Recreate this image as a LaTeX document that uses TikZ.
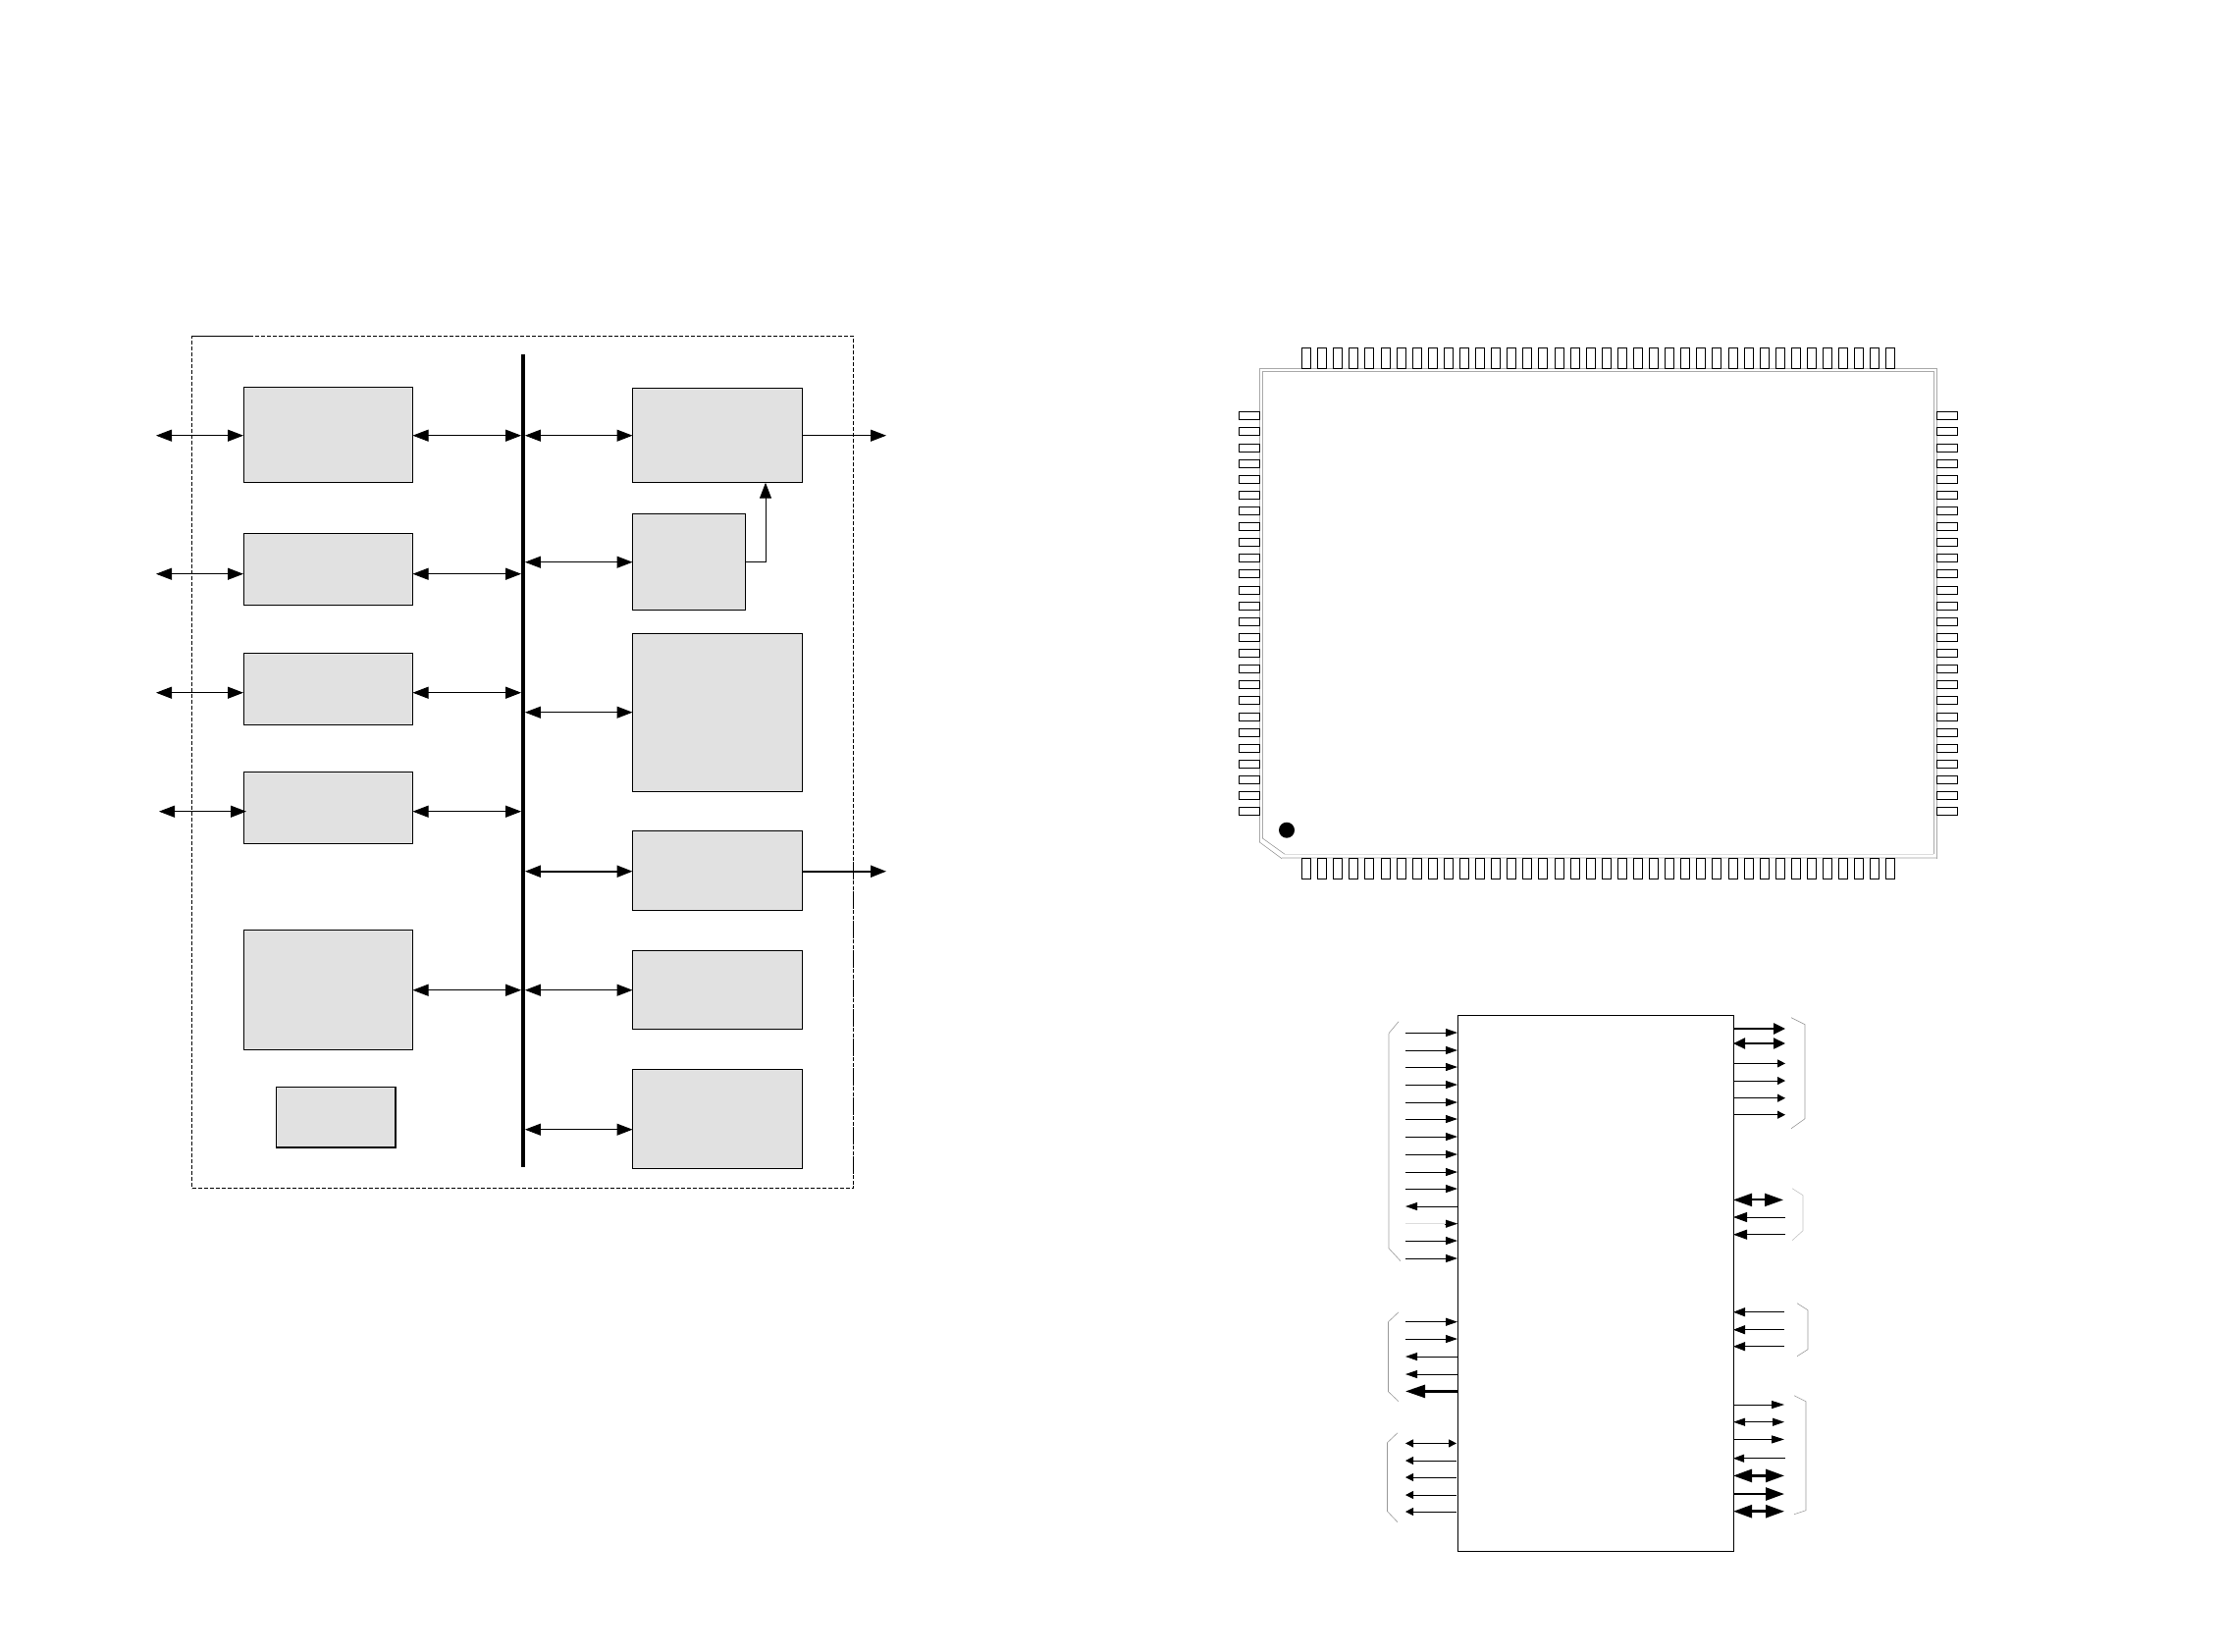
\documentclass[tikz,border=0pt]{standalone}
\usetikzlibrary{arrows.meta}
\definecolor{blkfill}{HTML}{E1E1E1}
\definecolor{pkg}{HTML}{AAAAAA}
\definecolor{pale}{HTML}{DDDDDD}
\definecolor{brk}{HTML}{999999}
\tikzset{
  x=1pt,y=-1pt,
  blk/.style={draw=black,fill=blkfill,line width=0.9pt,inner sep=0pt,outer sep=0pt},
  pinbox/.style={draw=black,line width=0.9pt,fill=white,inner sep=0pt,outer sep=0pt},
  busbar/.style={fill=black,inner sep=0pt,outer sep=0pt,minimum width=3.8pt},
  frm/.style={draw=black,line width=0.9pt,dash pattern=on 4pt off 2pt,inner sep=0pt,outer sep=0pt},
  chipbody/.style={draw=black,line width=0.9pt,inner sep=0pt,outer sep=0pt},
  dbl/.style n args={3}{line width=#1,{Triangle[length=#2,width=#3]}-{Triangle[length=#2,width=#3]}},
  rgt/.style n args={3}{line width=#1,-{Triangle[length=#2,width=#3]}},
  lft/.style n args={3}{line width=#1,{Triangle[length=#2,width=#3]}-},
  brace/.style={draw=brk,line width=0.6pt},
  paleline/.style={draw=pale,line width=1.5pt},
  pk/.style={draw=pkg,line width=1pt},
}
\newcommand{\blkbox}[5]{\node[blk,minimum width={(#4-#2)*1pt},minimum height={(#5-#3)*1pt}] (#1) at ({(#2+#4)/2},{(#3+#5)/2}) {};}
\begin{document}
\begin{tikzpicture}
\useasboundingbox (0,-0.7) rectangle (2266,1681.3);
% ---------- block diagram
\node[frm,minimum width=674pt,minimum height=868pt] (sys) at (532.5,776) {};
\draw[line width=1.3pt,dash pattern=on 4pt off 2pt] (sys.north west) -- ++(62,0);
\draw[line width=1.5pt,dash pattern=on 3pt off 2pt] (sys.south east) -- ++(0,-345);
\blkbox{A}{248}{394}{420.5}{491}
\blkbox{B}{248}{543}{420.5}{616}
\blkbox{C}{248}{664.5}{420.5}{738}
\blkbox{D}{248}{786}{420.5}{859}
\blkbox{E}{248}{947}{420.5}{1068.5}
\blkbox{F}{281}{1107}{403}{1168}
\blkbox{Ra}{644.5}{394.5}{817}{491}
\blkbox{Rb}{644.5}{523}{759.5}{620.5}
\blkbox{Rc}{644.5}{644.5}{817}{806}
\blkbox{Rd}{644.5}{846}{817}{927}
\blkbox{Re}{644.5}{968}{817}{1048}
\blkbox{Rf}{644.5}{1089}{817}{1190}
\draw[line width=1.6pt] (F.north west) ++(0,61) -- ++(122,0) -- ++(0,-61);
\node[busbar,minimum height=828pt] (bus) at (533,774) {};
% left free ends
\coordinate (la) at (159,443);
\coordinate (lb) at (159,584);
\coordinate (lc) at (159,705);
\coordinate (ld) at (162,826);
\coordinate (le) at (159,1008);
\coordinate (lda) at (251,826);
\draw[dbl={1pt}{16pt}{12pt}] (la) -- (la -| A.west);
\draw[dbl={1pt}{16pt}{12pt}] (lb) -- (lb -| B.west);
\draw[dbl={1pt}{16pt}{12pt}] (lc) -- (lc -| C.west);
\draw[dbl={1pt}{16pt}{12pt}] (ld) -- (lda);
\draw[dbl={1pt}{16pt}{12pt}] (la -| A.east) -- (la -| bus.west);
\draw[dbl={1pt}{16pt}{12pt}] (lb -| B.east) -- (lb -| bus.west);
\draw[dbl={1pt}{16pt}{12pt}] (lc -| C.east) -- (lc -| bus.west);
\draw[dbl={1pt}{16pt}{12pt}] (ld -| D.east) -- (ld -| bus.west);
\draw[dbl={1pt}{16pt}{12pt}] (le -| E.east) -- (le -| bus.west);
% right of bus
\coordinate (rb) at (645,572);
\coordinate (rc) at (645,725);
\coordinate (rd) at (645,887);
\coordinate (rf) at (645,1150);
\coordinate (ra) at (903,443);
\coordinate (rdo) at (903,887);
\coordinate (kn) at (780,572);
\draw[dbl={1pt}{16pt}{12pt}] (la -| bus.east) -- (la -| Ra.west);
\draw[dbl={1pt}{16pt}{12pt}] (rb -| bus.east) -- (rb -| Rb.west);
\draw[dbl={1pt}{16pt}{12pt}] (rc -| bus.east) -- (rc -| Rc.west);
\draw[dbl={2pt}{16pt}{12pt}] (rd -| bus.east) -- (rd -| Rd.west);
\draw[dbl={1pt}{16pt}{12pt}] (le -| bus.east) -- (le -| Re.west);
\draw[dbl={1pt}{16pt}{12pt}] (rf -| bus.east) -- (rf -| Rf.west);
\draw[rgt={1pt}{16pt}{12pt}] (ra -| Ra.east) -- (ra);
\draw[rgt={2pt}{16pt}{12pt}] (rdo -| Rd.east) -- (rdo);
\draw[rgt={1pt}{16pt}{12pt}] (kn -| Rb.east) -- (kn) -- (kn |- Ra.south);
% ---------- package
\draw[pk] (1283,857) -- (1283,375) -- (1973,375) -- (1973,874);
\draw[pk] (1286,853) -- (1286,378) -- (1970,378) -- (1970,869.5);
\draw[paleline] (1306,873.5) -- (1973,873.5);
\draw[draw=pale,line width=1pt] (1309,869.5) -- (1970,869.5);
\draw[brace] (1283,857) -- (1306,874);
\draw[brace] (1286,853) -- (1309,869.5);
\fill[black] (1311,845) circle (8pt);
\foreach \i in {0,...,37}{
  \pgfmathsetmacro{\px}{1331+16.09*\i}
  \node[pinbox,minimum width=9pt,minimum height=21pt] (pt\i) at (\px,364.5) {};
  \node[pinbox,minimum width=9pt,minimum height=20.5pt] (pb\i) at (\px,884.2) {};
}
\foreach \i in {0,...,25}{
  \pgfmathsetmacro{\py}{423+16.12*\i}
  \node[pinbox,minimum width=21pt,minimum height=8pt] (pl\i) at (1272.5,\py) {};
  \node[pinbox,minimum width=21.5pt,minimum height=8pt] (pr\i) at (1984,\py) {};
}
% ---------- pin-out chip
\node[chipbody,minimum width=281pt,minimum height=546pt] (chip) at (1625.5,1307) {};
% left groups
\foreach \n/\y in {a/1051.3,b/1069.3,c/1086.3,d/1104.3,e/1122.3,f/1139.3,g/1157.3,h/1175.3,i/1193.3,j/1210.3,m/1263.3,n/1281.3,p/1346,q/1363.3}{
  \coordinate (L\n) at (1432,\y);
  \draw[rgt={0.9pt}{12pt}{8pt}] (L\n) -- (L\n -| chip.west);
}
\coordinate (Lk) at (1432,1228.3);
\draw[lft={0.9pt}{12pt}{8pt}] (Lk) -- (Lk -| chip.west);
\coordinate (Ll) at (1432,1246);
\draw[draw=pale,line width=1.4pt] (Ll) -- ++(40,0);
\draw[rgt={0.2pt}{12pt}{8pt}] (Ll) ++(40,0) coordinate (Ll2) -- (Ll2 -| chip.west);
\foreach \n/\y in {r/1381.3,s/1399.3}{
  \coordinate (L\n) at (1432,\y);
  \draw[lft={0.9pt}{12pt}{8pt}] (L\n) -- (L\n -| chip.west);
}
\coordinate (Lt) at (1432,1416.7);
\draw[lft={2.5pt}{20pt}{13pt}] (Lt) -- (Lt -| chip.west);
\coordinate (Lu) at (1432,1469.7);
\coordinate (Lue) at (1484,1469.7);
\draw[dbl={0.9pt}{8pt}{8pt}] (Lu) -- (Lue);
\foreach \n/\y in {v/1487.3,w/1504.3,x/1522.3,z/1539.3}{
  \coordinate (L\n) at (1432,\y);
  \coordinate (Le\n) at (1484,\y);
  \draw[lft={0.9pt}{8pt}{8pt}] (L\n) -- (Le\n);
}
% right groups
\coordinate (Ra1) at (1819,1047.3);
\draw[rgt={2.5pt}{12pt}{11pt}] (Ra1 -| chip.east) -- (Ra1);
\coordinate (Ra2) at (1819,1062.3);
\draw[dbl={2.2pt}{12pt}{11pt}] (Ra2 -| chip.east) -- (Ra2);
\foreach \n/\y in {3/1082.7,4/1100.3,5/1118,6/1135}{
  \coordinate (Ra\n) at (1819,\y);
  \draw[rgt={0.9pt}{8pt}{8pt}] (Ra\n -| chip.east) -- (Ra\n);
}
\coordinate (Rg1) at (1817,1221.7);
\draw[dbl={2pt}{19pt}{13pt}] (Rg1 -| chip.east) -- (Rg1);
\foreach \n/\y in {2/1239.3,3/1257}{
  \coordinate (Rg\n) at (1819,\y);
  \draw[lft={0.9pt}{14pt}{10pt}] (Rg\n -| chip.east) -- (Rg\n);
}
\foreach \n/\y in {1/1336,2/1354,3/1371}{
  \coordinate (Rh\n) at (1818,\y);
  \draw[lft={0.9pt}{12pt}{9pt}] (Rh\n -| chip.east) -- (Rh\n);
}
\coordinate (Rj1) at (1818,1430.3);
\coordinate (Rj2) at (1818,1448);
\coordinate (Rj3) at (1818,1465.7);
\coordinate (Rj4) at (1819,1485);
\coordinate (Rj5) at (1818,1502.7);
\coordinate (Rj6) at (1818,1521.3);
\coordinate (Rj7) at (1818,1539);
\draw[rgt={0.9pt}{13pt}{8pt}] (Rj1 -| chip.east) -- (Rj1);
\draw[dbl={0.9pt}{12pt}{8pt}] (Rj2 -| chip.east) -- (Rj2);
\draw[rgt={0.9pt}{13pt}{8pt}] (Rj3 -| chip.east) -- (Rj3);
\draw[lft={0.9pt}{11pt}{8pt}] (Rj4 -| chip.east) -- (Rj4);
\draw[dbl={2.5pt}{19pt}{13pt}] (Rj5 -| chip.east) -- (Rj5);
\draw[rgt={2.5pt}{19pt}{13pt}] (Rj6 -| chip.east) -- (Rj6);
\draw[dbl={2.5pt}{19pt}{13pt}] (Rj7 -| chip.east) -- (Rj7);
% brackets
\draw[brace] (1425,1040) -- (1415,1052);
\draw[paleline] (1415,1052) -- (1415,1271);
\draw[brace] (1415,1271) -- (1427,1284);
\draw[brace] (1425,1336) -- (1414.5,1346) -- (1414.5,1417) -- (1425,1427);
\draw[brace] (1424,1459) -- (1413.5,1469) -- (1413.5,1539) -- (1424,1550);
\draw[brace] (1825,1036) -- (1839,1043) -- (1839,1139) -- (1825,1149);
\draw[brace,draw=brk!60] (1826,1210) -- (1837,1217) -- (1837,1253) -- (1826,1263);
\draw[brace] (1831,1327) -- (1842,1334) -- (1842,1374) -- (1831,1381);
\draw[brace] (1828,1421) -- (1840,1427) -- (1840,1538) -- (1828,1542);
\end{tikzpicture}
\end{document}
